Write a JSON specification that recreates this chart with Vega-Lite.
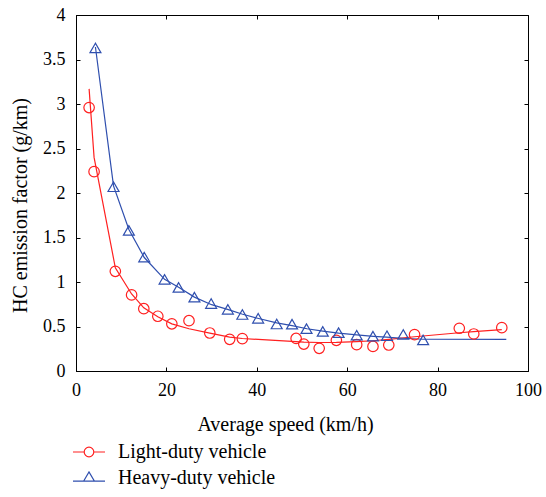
{
  "$schema": "https://vega.github.io/schema/vega-lite/v6.json",
  "autosize": {"type": "none"},
  "width": 452,
  "height": 356,
  "padding": {"left": 76, "top": 15, "right": 18, "bottom": 126},
  "background": "white",
  "config": {
    "view": {"stroke": "black", "strokeWidth": 1},
    "font": "Liberation Serif",
    "axis": {
      "grid": false,
      "domainColor": "black",
      "tickColor": "black",
      "labelColor": "black",
      "titleColor": "black",
      "labelFont": "Liberation Serif",
      "titleFont": "Liberation Serif",
      "labelFontSize": 18,
      "titleFontSize": 20,
      "titleFontWeight": "normal",
      "tickSize": -4
    },
    "legend": {"labelFont": "Liberation Serif", "titleFont": "Liberation Serif"}
  },
  "datasets": {
    "light": [
      {"speed": 2.9, "hc": 2.96},
      {"speed": 4.0, "hc": 2.24},
      {"speed": 8.7, "hc": 1.12},
      {"speed": 12.3, "hc": 0.855},
      {"speed": 15.0, "hc": 0.70},
      {"speed": 18.1, "hc": 0.615},
      {"speed": 21.2, "hc": 0.53},
      {"speed": 25.0, "hc": 0.565},
      {"speed": 29.6, "hc": 0.427},
      {"speed": 34.0, "hc": 0.356},
      {"speed": 36.8, "hc": 0.364},
      {"speed": 48.7, "hc": 0.366},
      {"speed": 50.4, "hc": 0.303},
      {"speed": 53.8, "hc": 0.255},
      {"speed": 57.6, "hc": 0.345},
      {"speed": 62.1, "hc": 0.296},
      {"speed": 65.7, "hc": 0.276},
      {"speed": 69.2, "hc": 0.292},
      {"speed": 74.9, "hc": 0.409},
      {"speed": 84.8, "hc": 0.48},
      {"speed": 88.0, "hc": 0.416},
      {"speed": 94.2, "hc": 0.487}
    ],
    "heavy": [
      {"speed": 4.3, "hc": 3.63},
      {"speed": 8.3, "hc": 2.07},
      {"speed": 11.7, "hc": 1.58},
      {"speed": 15.1, "hc": 1.28},
      {"speed": 19.6, "hc": 1.03},
      {"speed": 22.7, "hc": 0.94},
      {"speed": 26.2, "hc": 0.83},
      {"speed": 29.9, "hc": 0.758},
      {"speed": 33.6, "hc": 0.693},
      {"speed": 36.8, "hc": 0.635},
      {"speed": 40.3, "hc": 0.592},
      {"speed": 44.4, "hc": 0.528},
      {"speed": 47.8, "hc": 0.527},
      {"speed": 51.0, "hc": 0.476},
      {"speed": 54.6, "hc": 0.445},
      {"speed": 58.1, "hc": 0.431},
      {"speed": 62.1, "hc": 0.402},
      {"speed": 65.7, "hc": 0.392},
      {"speed": 68.8, "hc": 0.396},
      {"speed": 72.4, "hc": 0.41},
      {"speed": 76.8, "hc": 0.35}
    ],
    "fit": [
      {"series": "Light-duty vehicle", "speed": 2.9, "hc": 3.17},
      {"series": "Light-duty vehicle", "speed": 4.0, "hc": 2.40},
      {"series": "Light-duty vehicle", "speed": 8.7, "hc": 1.16},
      {"series": "Light-duty vehicle", "speed": 12.3, "hc": 0.865},
      {"series": "Light-duty vehicle", "speed": 15.0, "hc": 0.71},
      {"series": "Light-duty vehicle", "speed": 18.1, "hc": 0.61},
      {"series": "Light-duty vehicle", "speed": 21.2, "hc": 0.53},
      {"series": "Light-duty vehicle", "speed": 25.0, "hc": 0.475},
      {"series": "Light-duty vehicle", "speed": 29.6, "hc": 0.425},
      {"series": "Light-duty vehicle", "speed": 34.0, "hc": 0.38},
      {"series": "Light-duty vehicle", "speed": 36.8, "hc": 0.365},
      {"series": "Light-duty vehicle", "speed": 48.7, "hc": 0.33},
      {"series": "Light-duty vehicle", "speed": 50.4, "hc": 0.325},
      {"series": "Light-duty vehicle", "speed": 53.8, "hc": 0.32},
      {"series": "Light-duty vehicle", "speed": 57.6, "hc": 0.322},
      {"series": "Light-duty vehicle", "speed": 62.1, "hc": 0.33},
      {"series": "Light-duty vehicle", "speed": 65.7, "hc": 0.34},
      {"series": "Light-duty vehicle", "speed": 69.2, "hc": 0.356},
      {"series": "Light-duty vehicle", "speed": 74.9, "hc": 0.385},
      {"series": "Light-duty vehicle", "speed": 84.8, "hc": 0.43},
      {"series": "Light-duty vehicle", "speed": 88.0, "hc": 0.443},
      {"series": "Light-duty vehicle", "speed": 94.2, "hc": 0.465},
      {"series": "Heavy-duty vehicle", "speed": 4.3, "hc": 3.64},
      {"series": "Heavy-duty vehicle", "speed": 8.3, "hc": 2.08},
      {"series": "Heavy-duty vehicle", "speed": 11.7, "hc": 1.59},
      {"series": "Heavy-duty vehicle", "speed": 15.1, "hc": 1.275},
      {"series": "Heavy-duty vehicle", "speed": 19.6, "hc": 1.03},
      {"series": "Heavy-duty vehicle", "speed": 22.7, "hc": 0.94},
      {"series": "Heavy-duty vehicle", "speed": 26.2, "hc": 0.83},
      {"series": "Heavy-duty vehicle", "speed": 30.0, "hc": 0.745},
      {"series": "Heavy-duty vehicle", "speed": 33.7, "hc": 0.69},
      {"series": "Heavy-duty vehicle", "speed": 36.7, "hc": 0.64},
      {"series": "Heavy-duty vehicle", "speed": 40.4, "hc": 0.59},
      {"series": "Heavy-duty vehicle", "speed": 44.4, "hc": 0.54},
      {"series": "Heavy-duty vehicle", "speed": 47.8, "hc": 0.51},
      {"series": "Heavy-duty vehicle", "speed": 51.1, "hc": 0.475},
      {"series": "Heavy-duty vehicle", "speed": 54.6, "hc": 0.448},
      {"series": "Heavy-duty vehicle", "speed": 58.1, "hc": 0.425},
      {"series": "Heavy-duty vehicle", "speed": 62.1, "hc": 0.405},
      {"series": "Heavy-duty vehicle", "speed": 65.8, "hc": 0.39},
      {"series": "Heavy-duty vehicle", "speed": 68.7, "hc": 0.38},
      {"series": "Heavy-duty vehicle", "speed": 72.2, "hc": 0.368},
      {"series": "Heavy-duty vehicle", "speed": 76.8, "hc": 0.357},
      {"series": "Heavy-duty vehicle", "speed": 95.2, "hc": 0.355}
    ]
  },
  "layer": [
    {
      "data": {"name": "fit"},
      "mark": {"type": "line", "strokeWidth": 1.2, "clip": true},
      "encoding": {
        "x": {"field": "speed", "type": "quantitative",
              "scale": {"domain": [0, 100], "nice": false, "zero": false},
              "axis": {"orient": "bottom", "values": [0, 20, 40, 60, 80, 100], "title": "Average speed (km/h)",
                       "labelPadding": 14, "titlePadding": 15, "titleX": 209, "labelFlush": false}},
        "y": {"field": "hc", "type": "quantitative",
              "scale": {"domain": [0, 4], "nice": false, "zero": false},
              "axis": {"orient": "left", "values": [0, 0.5, 1, 1.5, 2, 2.5, 3, 3.5, 4], "format": "~g", "title": "HC emission factor (g/km)",
                       "labelPadding": 15, "titlePadding": 12, "titleY": 190, "labelFlush": false}},
        "color": {"field": "series", "type": "nominal",
                  "scale": {"domain": ["Light-duty vehicle", "Heavy-duty vehicle"], "range": ["#ff2020", "#2f4fae"]},
                  "legend": {
                    "orient": "none", "legendX": -4, "legendY": 427, "title": null,
                    "direction": "vertical", "padding": 0,
                    "labelFont": "Liberation Serif", "labelFontSize": 20, "labelColor": "black",
                    "labelOffset": 12, "symbolSize": 1024, "clipHeight": 20, "rowPadding": 6,
                    "symbolStrokeWidth": 1.2,
                    "encode": {"symbols": {"update": {
                      "shape": {"signal": "datum.value === 'Light-duty vehicle' ? 'M-1,0L-0.3,0M0.3,0L1,0M-0.3,0A0.3,0.3 0 1,1 0.3,0A0.3,0.3 0 1,1 -0.3,0Z' : 'M-1,0.2L1,0.2M-0.34,0.2L0,-0.38L0.34,0.2Z'"},
                      "size": {"value": 1024},
                      "fill": {"value": "transparent"},
                      "stroke": {"scale": "color", "field": "value"},
                      "strokeWidth": {"value": 1.2}
                    }}}
                  }}
      }
    },
    {
      "data": {"name": "light"},
      "mark": {"type": "point", "shape": "circle", "filled": false, "color": "#ff2020", "strokeWidth": 1.2, "size": 110, "opacity": 1},
      "encoding": {
        "x": {"field": "speed", "type": "quantitative",
              "scale": {"domain": [0, 100], "nice": false, "zero": false},
              "axis": {"orient": "top", "values": [0, 20, 40, 60, 80, 100], "labels": false, "title": null, "domain": false}},
        "y": {"field": "hc", "type": "quantitative",
              "scale": {"domain": [0, 4], "nice": false, "zero": false},
              "axis": {"orient": "right", "values": [0, 0.5, 1, 1.5, 2, 2.5, 3, 3.5, 4], "labels": false, "title": null, "domain": false}}
      }
    },
    {
      "data": {"name": "heavy"},
      "mark": {"type": "point", "shape": "triangle-up", "filled": false, "color": "#2f4fae", "strokeWidth": 1.2, "size": 120, "opacity": 1},
      "encoding": {
        "x": {"field": "speed", "type": "quantitative", "axis": null},
        "y": {"field": "hc", "type": "quantitative", "axis": null}
      }
    }
  ],
  "resolve": {"axis": {"x": "independent", "y": "independent"}}
}
